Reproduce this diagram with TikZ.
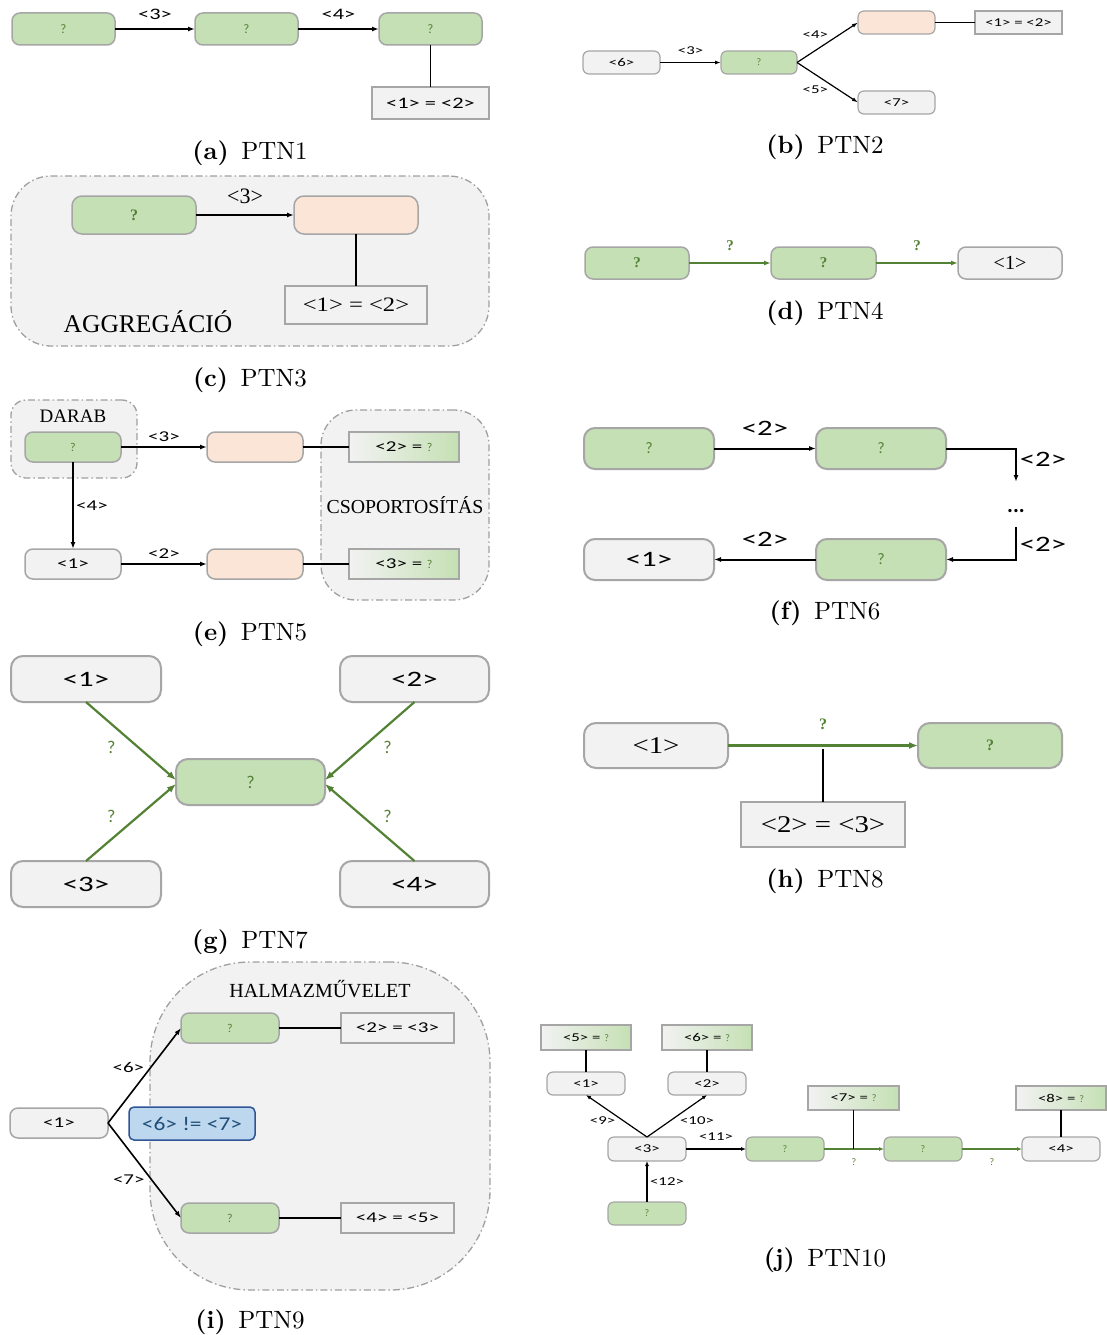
\documentclass[tikz,border=0pt]{standalone}
\usepackage{fontspec}
\usetikzlibrary{arrows.meta}
\newfontfamily\carl{Carlito}
\newfontfamily\cw{Carlito}[FakeStretch=1.4]
\newfontfamily\cn{Carlito}[FakeStretch=1.2]
\newfontfamily\tms{Liberation Serif}
\newfontfamily\tw{Liberation Serif}[FakeStretch=1.2]
\newfontfamily\capfont{lmroman10-regular.otf}[BoldFont=lmroman10-bold.otf]
\newcommand\fsz[1]{\fontsize{#1}{#1}\selectfont}
\definecolor{nodegreen}{HTML}{C5E0B4}
\definecolor{peach}{HTML}{FBE5D6}
\definecolor{lightg}{HTML}{F2F2F2}
\definecolor{bordergray}{HTML}{A6A6A6}
\definecolor{grpborder}{HTML}{A0A0A0}
\definecolor{qgreen}{HTML}{548235}
\definecolor{bluefill}{HTML}{BDD7EE}
\definecolor{blueline}{HTML}{2F5597}
\definecolor{bluetext}{HTML}{1F4E79}
\newcommand\qm{\textcolor{qgreen}{?}}
\tikzset{
  sz/.style 2 args={minimum width=#1, minimum height=#2},
  nd/.style={draw=bordergray, line width=1.5pt, inner sep=0pt, outer sep=0pt, rounded corners=8pt},
  gfill/.style={nd, fill=nodegreen},
  pfill/.style={nd, fill=peach},
  wfill/.style={nd, fill=lightg},
  cond/.style={draw=bordergray, line width=1.5pt, fill=lightg, inner sep=0pt, outer sep=0pt},
  grad/.style={cond, left color=lightg, right color=nodegreen},
  grp/.style={draw=grpborder, fill=lightg, line width=1.3pt, inner sep=0pt,
    dash pattern=on 7pt off 3pt on 1.5pt off 3pt},
  arr/.style={-{Latex[length=7pt,width=5pt]}, line width=1.6pt},
  garr/.style={arr, draw=qgreen},
  conn/.style={line width=1.6pt},
  capt/.style={font=\capfont\fsz{25}},
}
\begin{document}
\begin{tikzpicture}[x=1pt, y=-1pt]
\useasboundingbox (0,0) rectangle (1107,1335);
\fill[white] (0,0) rectangle (1107,1335);

% ---------- (a) PTN1 ----------
\begin{scope}[every node/.append style={font=\cw\fsz{16}}]
  \node[gfill, sz={103}{32}] (a1) at (63.5,29) {\carl\fsz{13}\qm};
  \node[gfill, sz={103}{32}] (a2) at (246.5,29) {\carl\fsz{13}\qm};
  \node[gfill, sz={103}{32}] (a3) at (430.5,29) {\carl\fsz{13}\qm};
  \node[cond, sz={117}{32}] (ac) at (430.5,103) {<1> = <2>};
  \draw[arr] (a1) -- node[yshift=15pt] {<3>} (a2);
  \draw[arr] (a2) -- node[yshift=15pt] {<4>} (a3);
  \draw[conn] (a3) -- (ac);
\end{scope}
\node[capt] (capa) at (250,153) {\textbf{(a)}\enspace PTN1};

% ---------- (b) PTN2 ----------
\begin{scope}[every node/.append style={font=\cw\fsz{12}}, nd/.append style={rounded corners=6pt, line width=1.2pt}, cond/.append style={line width=1.2pt}]
  \node[wfill, sz={77}{23}] (b6) at (621.5,62.5) {<6>};
  \node[gfill, sz={76}{23}] (bg) at (759,62.5) {\carl\fsz{10}\qm};
  \node[pfill, sz={77}{23}] (bp) at (896.5,22.5) {};
  \node[wfill, sz={77}{23}] (b7) at (896.5,102.5) {<7>};
  \node[cond, sz={87}{23}] (bc) at (1018.5,22.5) {<1> = <2>};
  \draw[arr, line width=1.2pt, -{Latex[length=6pt,width=4pt]}] (b6) -- node[yshift=12pt] {<3>} (bg);
  \draw[arr, line width=1.2pt, -{Latex[length=6pt,width=4pt]}] (bg.east) -- node[pos=.3, yshift=16pt] {<4>} (bp.west);
  \draw[arr, line width=1.2pt, -{Latex[length=6pt,width=4pt]}] (bg.east) -- node[pos=.3, yshift=-15pt] {<5>} (b7.west);
  \draw[conn, line width=1.2pt] (bp) -- (bc);
\end{scope}
\node[capt] (capb) at (825,147) {\textbf{(b)}\enspace PTN2};

% ---------- (c) PTN3 ----------
\node[grp, rounded corners=40pt, sz={478}{170}] (cgrp) at (250,261) {};
\begin{scope}[every node/.append style={font=\tms\fsz{22}}, nd/.append style={rounded corners=10pt}]
  \node[gfill, sz={124}{38}] (cg) at (134,215) {\fsz{16}\bfseries\qm};
  \node[pfill, sz={124}{38}] (cp) at (356,215) {};
  \node[cond, sz={142}{38}] (cc) at (356,305) {\tw\fsz{20.5}<1> = <2>};
  \draw[arr, line width=2pt] (cg) -- node[yshift=19pt] {<3>} (cp);
  \draw[conn, line width=2pt] (cp) -- (cc);
  \node (caggr) at (148,322) {\fsz{25.5}AGGREGÁCIÓ};
\end{scope}
\node[capt] (capc) at (250,380) {\textbf{(c)}\enspace PTN3};

% ---------- (d) PTN4 ----------
\begin{scope}[every node/.append style={font=\tms\fsz{20}}]
  \node[gfill, sz={104}{32}] (dg1) at (637,263) {\fsz{15}\bfseries\qm};
  \node[gfill, sz={105}{32}] (dg2) at (823.5,263) {\fsz{15}\bfseries\qm};
  \node[wfill, sz={104}{32}] (d1) at (1010,263) {<1>};
  \draw[garr] (dg1) -- node[yshift=17pt] {\fsz{15}\bfseries\qm} (dg2);
  \draw[garr] (dg2) -- node[yshift=17pt] {\fsz{15}\bfseries\qm} (d1);
\end{scope}
\node[capt] (capd) at (825,313) {\textbf{(d)}\enspace PTN4};

% ---------- (e) PTN5 ----------
\node[grp, rounded corners=15pt, sz={126}{78}] (edarab) at (74,439) {};
\node[grp, rounded corners=35pt, sz={168}{190}] (ecsop) at (405,505) {};
\node[font=\tms\fsz{19}] (edl) at (73,416) {DARAB};
\node[font=\tms\fsz{19.8}] (ecl) at (405,505) {CSOPORTOSÍTÁS};
\begin{scope}[every node/.append style={font=\cw\fsz{15}}]
  \node[gfill, sz={96}{30}] (eg) at (73,447) {\carl\fsz{12}\qm};
  \node[pfill, sz={96}{30}] (ep1) at (255,447) {};
  \node[grad, sz={110}{30}] (eb1) at (404,447) {<2> = {\carl\fsz{12}\qm}};
  \node[wfill, sz={96}{30}] (e1) at (73,564) {<1>};
  \node[pfill, sz={96}{30}] (ep2) at (255,564) {};
  \node[grad, sz={110}{30}] (eb2) at (404,564) {<3> = {\carl\fsz{12}\qm}};
  \draw[arr] (eg) -- node[yshift=10pt] {<3>} (ep1);
  \draw[arr] (eg) -- node[xshift=19pt] {<4>} (e1);
  \draw[arr] (e1) -- node[yshift=10pt] {<2>} (ep2);
  \draw[conn] (ep1) -- (eb1);
  \draw[conn] (ep2) -- (eb2);
\end{scope}
\node[capt] (cape) at (250,634) {\textbf{(e)}\enspace PTN5};

% ---------- (f) PTN6 ----------
\begin{scope}[every node/.append style={font=\cw\fsz{22}}, nd/.append style={rounded corners=11pt, line width=2pt}]
  \node[gfill, sz={130}{41}] (fg1) at (649,448.5) {\carl\fsz{16}\qm};
  \node[gfill, sz={130}{41}] (fg2) at (881,448.5) {\carl\fsz{16}\qm};
  \node[gfill, sz={130}{41}] (fg3) at (881,559.5) {\carl\fsz{16}\qm};
  \node[wfill, sz={130}{41}] (f1) at (649,559.5) {<1>};
  \coordinate (fdown) at (1016,482);
  \coordinate (fup) at (1016,527);
  \node (fdots) at (1016,511) {\carl\bfseries ...};
  \draw[arr, line width=2pt] (fg1) -- node[yshift=20pt] {<2>} (fg2);
  \draw[arr, line width=2pt] (fg2.east) -| (fdown);
  \draw[arr, line width=2pt] (fup) |- (fg3.east);
  \draw[arr, line width=2pt] (fg3) -- node[yshift=20pt] {<2>} (f1);
  \node (fl1) at (1043,459) {<2>};
  \node (fl2) at (1043,544) {<2>};
\end{scope}
\node[capt] (capf) at (825,613) {\textbf{(f)}\enspace PTN6};

% ---------- (g) PTN7 ----------
\begin{scope}[every node/.append style={font=\cw\fsz{22}}, nd/.append style={rounded corners=12pt, line width=2pt}]
  \node[wfill, sz={150}{46}] (g1) at (86,679) {<1>};
  \node[wfill, sz={149}{46}] (g2) at (414.5,679) {<2>};
  \node[wfill, sz={150}{46}] (g3) at (86,884) {<3>};
  \node[wfill, sz={149}{46}] (g4) at (414.5,884) {<4>};
  \node[gfill, sz={149}{46}] (gc) at (250.5,782) {\carl\fsz{18}\qm};
  \draw[garr, line width=2.2pt, -{Latex[length=9pt,width=7pt]}] (g1.south) -- node[pos=.58, xshift=-27pt] {\carl\fsz{18}\qm} ([yshift=2pt]gc.west);
  \draw[garr, line width=2.2pt, -{Latex[length=9pt,width=7pt]}] (g3.north) -- node[pos=.58, xshift=-27pt] {\carl\fsz{18}\qm} ([yshift=-2pt]gc.west);
  \draw[garr, line width=2.2pt, -{Latex[length=9pt,width=7pt]}] (g2.south) -- node[pos=.58, xshift=25pt] {\carl\fsz{18}\qm} ([yshift=2pt]gc.east);
  \draw[garr, line width=2.2pt, -{Latex[length=9pt,width=7pt]}] (g4.north) -- node[pos=.58, xshift=25pt] {\carl\fsz{18}\qm} ([yshift=-2pt]gc.east);
\end{scope}
\node[capt] (capg) at (250,942) {\textbf{(g)}\enspace PTN7};

% ---------- (h) PTN8 ----------
\begin{scope}[every node/.append style={font=\tw\fsz{24}}, nd/.append style={rounded corners=12pt, line width=2pt}]
  \node[wfill, sz={144}{45}] (h1) at (656,745.5) {<1>};
  \node[gfill, sz={144}{45}] (hg) at (990,745.5) {\tms\fsz{16}\bfseries\qm};
  \node[cond, line width=2pt, sz={164}{45}] (hc) at (823,824.5) {<2> = <3>};
  \coordinate (hj) at (823,749);
  \draw[garr, line width=2.2pt, -{Latex[length=9pt,width=7pt]}] (h1) -- node[yshift=21pt] {\tms\fsz{16}\bfseries\qm} (hg);
  \draw[conn, line width=2.4pt] (hc) -- (hj);
\end{scope}
\node[capt] (caph) at (825,881) {\textbf{(h)}\enspace PTN8};

% ---------- (i) PTN9 ----------
\node[grp, rounded corners=100pt, sz={340}{328}] (igrp) at (320,1126) {};
\node[font=\tms\fsz{20}] (ihl) at (320,989) {HALMAZMŰVELET};
\begin{scope}[every node/.append style={font=\cw\fsz{15}}]
  \node[gfill, sz={98}{30}] (ig1) at (230,1028) {\carl\fsz{12}\qm};
  \node[cond, sz={113}{30}] (ic1) at (397.5,1028) {<2> = <3>};
  \node[gfill, sz={98}{30}] (ig2) at (230,1218) {\carl\fsz{12}\qm};
  \node[cond, sz={113}{30}] (ic2) at (397.5,1218) {<4> = <5>};
  \node[wfill, sz={98}{30}] (i1) at (59,1123) {<1>};
  \node[draw=blueline, fill=bluefill, line width=1.5pt, rounded corners=5pt, sz={126}{33}, text=bluetext, font=\cn\fsz{19.5}] (iblue) at (192,1123.5) {<6> != <7>};
  \draw[arr] (i1.east) -- node[pos=.58, xshift=-22pt] {<6>} (ig1.west);
  \draw[arr] (i1.east) -- node[pos=.6, xshift=-23pt] {<7>} (ig2.west);
  \draw[conn] (ig1) -- (ic1);
  \draw[conn] (ig2) -- (ic2);
\end{scope}
\node[capt] (capi) at (250,1322) {\textbf{(i)}\enspace PTN9};

% ---------- (j) PTN10 ----------
\begin{scope}[every node/.append style={font=\cw\fsz{12}}, nd/.append style={rounded corners=6pt, line width=1.2pt}, cond/.append style={line width=1.2pt}]
  \node[grad, sz={90}{25}] (j5) at (586,1037.5) {<5> = {\carl\fsz{10}\qm}};
  \node[grad, sz={90}{25}] (j6) at (707,1037.5) {<6> = {\carl\fsz{10}\qm}};
  \node[wfill, sz={78}{23}] (j1) at (586,1083.5) {<1>};
  \node[wfill, sz={78}{23}] (j2) at (707,1083.5) {<2>};
  \node[wfill, sz={78}{24}] (j3) at (647,1149) {<3>};
  \node[gfill, sz={78}{24}] (jg1) at (785,1149) {\carl\fsz{10}\qm};
  \node[gfill, sz={78}{24}] (jg2) at (923,1149) {\carl\fsz{10}\qm};
  \node[wfill, sz={78}{24}] (j4) at (1061,1149) {<4>};
  \node[grad, sz={91}{24}] (j7) at (853.5,1098) {<7> = {\carl\fsz{10}\qm}};
  \node[grad, sz={90}{24}] (j8) at (1061,1098) {<8> = {\carl\fsz{10}\qm}};
  \node[gfill, sz={78}{23}] (jg3) at (647,1213.5) {\carl\fsz{10}\qm};
  \coordinate (jj) at (853.5,1149);
  \begin{scope}[arr/.append style={line width=1.2pt, -{Latex[length=5pt,width=4pt]}}]
    \draw[arr] (j3.north) -- node[pos=.4, xshift=-20pt] {<9>} (j1.south);
    \draw[arr] (j3.north) -- node[pos=.4, xshift=26pt] {<10>} (j2.south);
    \draw[arr] (j3) -- node[yshift=12pt] {<11>} (jg1);
    \draw[garr] (jg1) -- node[yshift=-13pt] {\carl\fsz{10}\qm} (jg2);
    \draw[garr] (jg2) -- node[yshift=-13pt] {\carl\fsz{10}\qm} (j4);
    \draw[arr] (jg3) -- node[xshift=20pt] {<12>} (j3);
  \end{scope}
  \draw[conn, line width=1.2pt] (j5) -- (j1);
  \draw[conn, line width=1.2pt] (j6) -- (j2);
  \draw[conn, line width=1.2pt] (j8) -- (j4);
  \draw[conn, line width=1.2pt] (j7) -- (jj);
\end{scope}
\node[capt] (capj) at (825,1260) {\textbf{(j)}\enspace PTN10};
\end{tikzpicture}
\end{document}
